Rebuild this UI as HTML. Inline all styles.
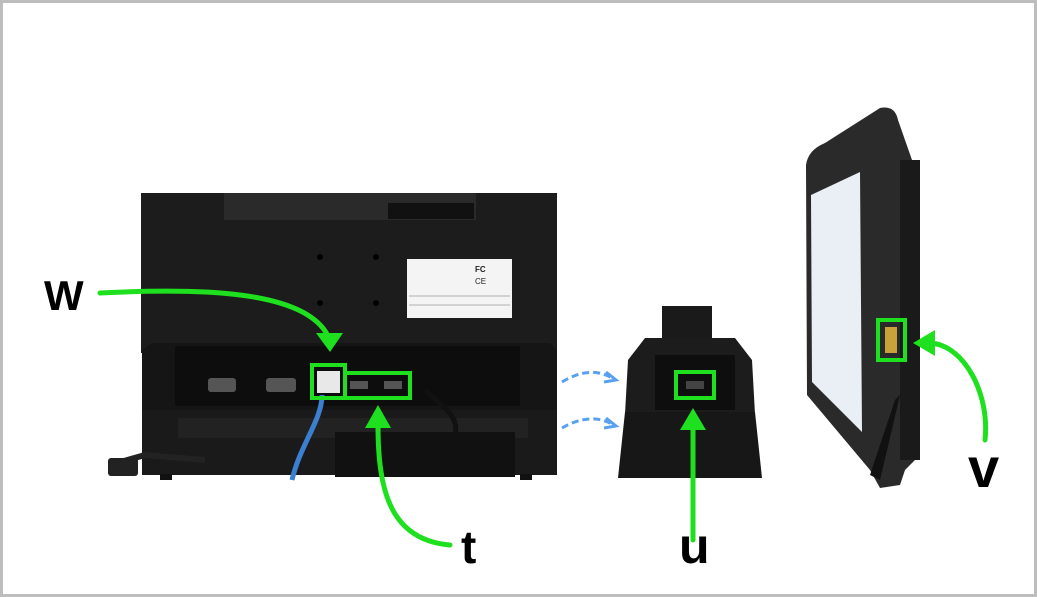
<!DOCTYPE html>
<html><head><style>html,body{margin:0;padding:0;background:#fff}svg{display:block}</style></head><body>
<svg width="1037" height="597" viewBox="0 0 1037 597" xmlns="http://www.w3.org/2000/svg" font-family="Liberation Sans, sans-serif">
<rect x="1.5" y="1.5" width="1034" height="594" fill="#fff" stroke="#bdbdbd" stroke-width="3"/>
<!-- left monitor -->
<rect x="141" y="193" width="416" height="160" fill="#1c1c1c"/>
<rect x="224" y="193" width="252" height="27" fill="#2a2a2a"/>
<rect x="388" y="203" width="86" height="16" fill="#111"/>
<circle cx="320" cy="257" r="3" fill="#000"/><circle cx="376" cy="257" r="3" fill="#000"/>
<circle cx="320" cy="303" r="3" fill="#000"/><circle cx="376" cy="303" r="3" fill="#000"/>
<rect x="407" y="259" width="105" height="59" fill="#f4f4f4"/>
<line x1="409" y1="296" x2="510" y2="296" stroke="#999" stroke-width="0.7"/>
<line x1="409" y1="305" x2="510" y2="305" stroke="#999" stroke-width="0.7"/>
<text x="475" y="272" font-size="8" font-weight="bold" fill="#222">FC</text>
<text x="475" y="284" font-size="8" fill="#222">CE</text>
<!-- dock -->
<path d="M142 350 L152 343 L550 343 L557 350 L557 412 L142 412 Z" fill="#151515"/>
<rect x="175" y="346" width="345" height="60" fill="#0d0d0d"/>
<path d="M142 410 L557 410 L557 475 L142 475 Z" fill="#1a1a1a"/>
<rect x="178" y="418" width="350" height="20" fill="#222"/>
<rect x="335" y="432" width="180" height="45" fill="#111"/>
<rect x="160" y="474" width="12" height="6" fill="#111"/><rect x="520" y="474" width="12" height="6" fill="#111"/>
<rect x="208" y="378" width="28" height="14" rx="3" fill="#555"/>
<rect x="266" y="378" width="30" height="14" rx="3" fill="#555"/>
<rect x="317" y="371" width="23" height="22" fill="#e8e8e8"/>
<rect x="350" y="381" width="18" height="8" fill="#555"/><rect x="384" y="381" width="18" height="8" fill="#555"/>
<path d="M322 395 C322 420 300 445 292 480" stroke="#3a7fd0" stroke-width="5" fill="none"/>
<path d="M425 390 C440 405 460 415 455 435" stroke="#111" stroke-width="5" fill="none"/>
<path d="M110 465 L145 455 L205 460" stroke="#222" stroke-width="6" fill="none"/>
<rect x="108" y="458" width="30" height="18" rx="3" fill="#222"/>
<rect x="312" y="365" width="33" height="33" fill="none" stroke="#1ee01e" stroke-width="4"/>
<rect x="345" y="373" width="65" height="25" fill="none" stroke="#1ee01e" stroke-width="4"/>
<!-- middle dock -->
<rect x="662" y="306" width="50" height="40" fill="#1a1a1a"/>
<path d="M645 338 L735 338 L752 360 L755 414 L625 414 L628 360 Z" fill="#1c1c1c"/>
<rect x="655" y="355" width="80" height="55" fill="#0e0e0e"/>
<path d="M625 412 L755 412 L762 478 L618 478 Z" fill="#171717"/>
<rect x="676" y="372" width="38" height="26" fill="none" stroke="#1ee01e" stroke-width="4"/>
<rect x="686" y="381" width="18" height="8" fill="#444"/>
<!-- blue dashed -->
<path d="M562 382 Q590 365 612 378" stroke="#5aa0f0" stroke-width="3" fill="none" stroke-dasharray="7 4"/>
<path d="M606 372 L616 380 L604 382" stroke="#5aa0f0" stroke-width="3" fill="none"/>
<path d="M562 428 Q590 412 612 424" stroke="#5aa0f0" stroke-width="3" fill="none" stroke-dasharray="7 4"/>
<path d="M606 418 L616 426 L604 428" stroke="#5aa0f0" stroke-width="3" fill="none"/>
<!-- tablet -->
<path d="M806 165 Q808 150 825 143 L880 108 Q895 105 898 120 L905 140 L912 160 L915 460 L905 470 L900 485 L880 488 L870 470 L807 395 Z" fill="#2a2a2a"/>
<path d="M811 195 L860 172 L862 432 L812 382 Z" fill="#e9eff4"/>
<rect x="900" y="160" width="20" height="300" fill="#1a1a1a"/>
<path d="M895 400 L900 395 L880 480 L870 475 Z" fill="#111"/>
<rect x="878" y="320" width="27" height="40" fill="none" stroke="#1ee01e" stroke-width="4"/>
<rect x="885" y="327" width="12" height="26" fill="#c9a23a"/>
<!-- green arrows -->
<g stroke="#1ee01e" stroke-width="5" fill="none" stroke-linecap="round">
<path d="M100 293 C200 288 305 290 328 336"/>
<path d="M450 545 C390 540 378 490 378 425"/>
<path d="M693 540 L693 420"/>
<path d="M985 440 C990 395 965 345 930 343"/>
</g>
<g fill="#1ee01e">
<path d="M316 333 L343 333 L330 352 Z"/>
<path d="M365 428 L391 428 L378 405 Z"/>
<path d="M680 430 L706 430 L693 408 Z"/>
<path d="M935 330 L935 356 L913 343 Z"/>
</g>
<g font-weight="bold" fill="#000">
<text x="44" y="310" font-size="42">W</text>
<text x="461" y="563" font-size="46">t</text>
<text x="679" y="563" font-size="50">u</text>
<text x="968" y="487" font-size="56">v</text>
</g>
</svg>
</body></html>
